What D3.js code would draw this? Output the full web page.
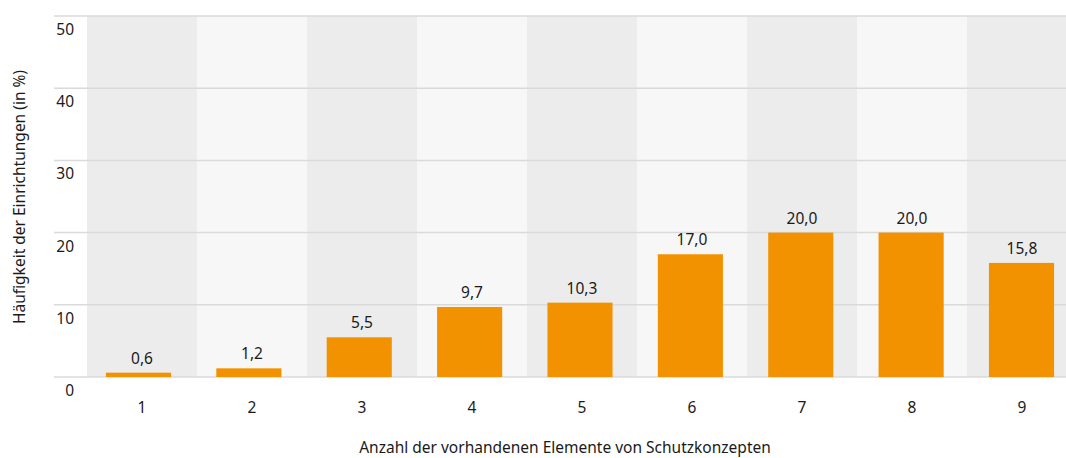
<!DOCTYPE html>
<html><head><meta charset="utf-8">
<script src="https://cdn.jsdelivr.net/npm/d3@7"></script>
<style>body{margin:0;background:#fff;} svg{display:block;font-family:"Noto Sans",sans-serif;}</style>
</head><body>
<svg id="c" width="1066" height="458"></svg>
<script>
const categories = ["1","2","3","4","5","6","7","8","9"];
const values = [0.6, 1.2, 5.5, 9.7, 10.3, 17.0, 20.0, 20.0, 15.8];
const yTicks = [0, 10, 20, 30, 40, 50];
const yTitle = "Häufigkeit der Einrichtungen (in %)";
const xTitle = "Anzahl der vorhandenen Elemente von Schutzkonzepten";

const svg = d3.select("#c");
const W = 1066;
const x = d3.scaleBand().domain(categories).range([87, 1077]).padding(0);
const xb = d3.scaleBand().domain(categories).range([83.3, 1076.7]).paddingInner(0.41).paddingOuter(0.205);
const y = d3.scaleLinear().domain([0, 50]).range([377, 16]);
const fmt = v => d3.format(".1f")(v).replace(".", ",");

// band backgrounds
svg.append("g").selectAll("rect").data(categories).join("rect")
  .attr("x", d => x(d)).attr("y", y(50)).attr("width", x.bandwidth()).attr("height", y(0) - y(50))
  .attr("fill", (d, i) => i % 2 === 0 ? "#ececec" : "#f7f7f7");

// gridlines
svg.append("g").selectAll("line").data(yTicks).join("line")
  .attr("x1", 54).attr("x2", W).attr("y1", d => y(d)).attr("y2", d => y(d))
  .attr("stroke", "#dadada").attr("stroke-width", 1.5);

// y tick labels
svg.append("g").selectAll("text").data(yTicks).join("text")
  .attr("x", 74).attr("y", d => y(d) + 19).attr("text-anchor", "end")
  .attr("font-size", 15.5).attr("fill", "#1a1a1a").text(d => d);

// bars
svg.append("g").selectAll("rect").data(values).join("rect")
  .attr("x", (d, i) => xb(categories[i]))
  .attr("y", d => y(d)).attr("width", xb.bandwidth()).attr("height", d => y(0) - y(d))
  .attr("fill", "#f39200");

// value labels
svg.append("g").selectAll("text").data(values).join("text")
  .attr("x", (d, i) => x(categories[i]) + x.bandwidth() / 2)
  .attr("y", d => y(d) - 9).attr("text-anchor", "middle")
  .attr("font-size", 15.5).attr("fill", "#1a1a1a").text(d => fmt(d));

// x tick labels
svg.append("g").selectAll("text").data(categories).join("text")
  .attr("x", d => x(d) + x.bandwidth() / 2).attr("y", 413).attr("text-anchor", "middle")
  .attr("font-size", 15.5).attr("fill", "#1a1a1a").text(d => d);

// axis titles
svg.append("text").attr("x", 565).attr("y", 453).attr("text-anchor", "middle")
  .attr("font-size", 15.5).attr("fill", "#1a1a1a").text(xTitle);
svg.append("text").attr("transform", "translate(25,197) rotate(-90)").attr("text-anchor", "middle")
  .attr("font-size", 15.5).attr("fill", "#1a1a1a").text(yTitle);
</script>
</body></html>
